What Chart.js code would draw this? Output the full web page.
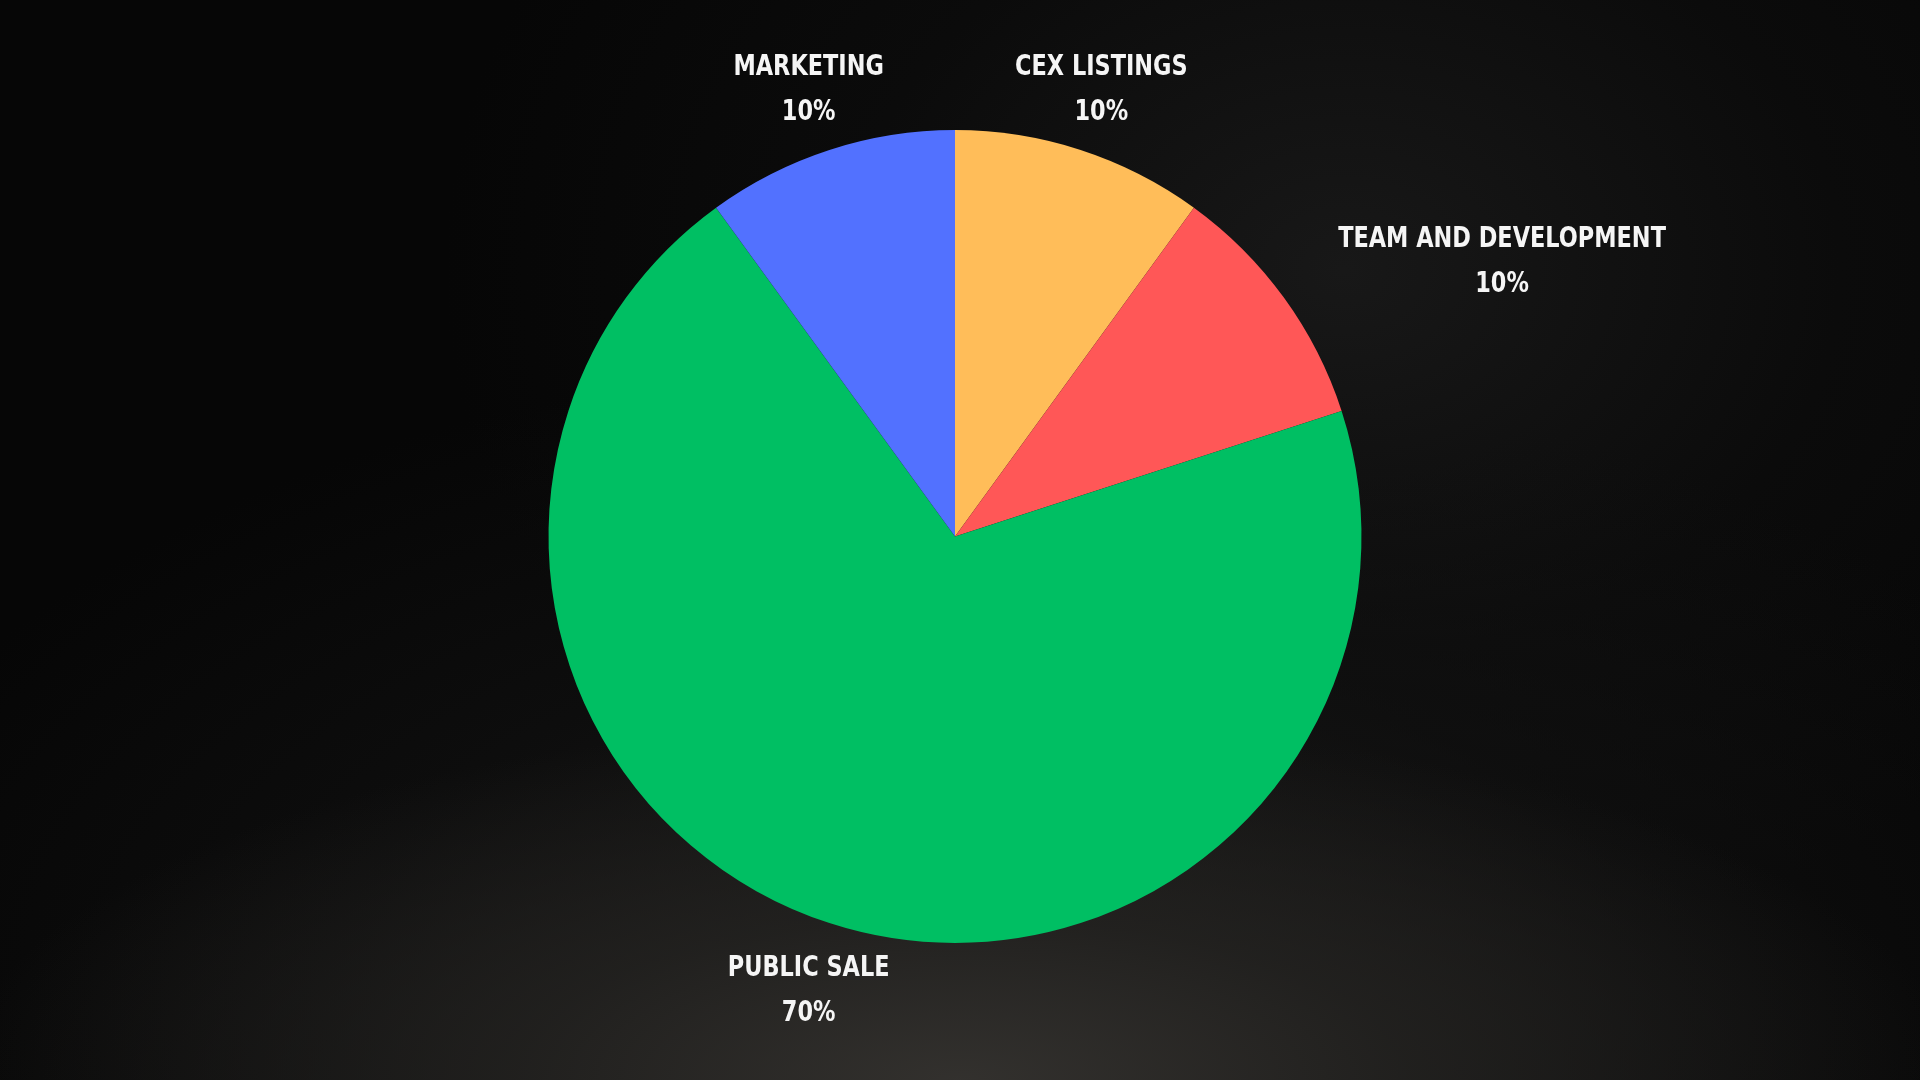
<!DOCTYPE html>
<html>
<head>
<meta charset="utf-8">
<script src="https://cdn.jsdelivr.net/npm/chart.js@4/dist/chart.umd.min.js"></script>
<style>
  html, body { margin: 0; padding: 0; width: 1920px; height: 1080px; overflow: hidden; }
  body {
    background:
      radial-gradient(ellipse 1000px 360px at 50% 100%, rgba(52,50,47,0.95) 0%, rgba(36,35,33,0.8) 45%, rgba(20,20,20,0) 100%),
      radial-gradient(ellipse 1200px 640px at 52% 92%, rgba(30,29,28,0.9) 0%, rgba(18,18,18,0.6) 55%, rgba(10,10,10,0) 100%),
      radial-gradient(ellipse 900px 700px at 70% 25%, rgba(26,26,26,0.9) 0%, rgba(16,16,16,0.5) 55%, rgba(8,8,8,0) 100%),
      #060606;
  }
  #wrap { position: absolute; left: 0; top: 0; width: 1920px; height: 1080px; }
</style>
</head>
<body>
<div id="wrap"><canvas id="c" width="1920" height="1080"></canvas></div>
<script>
const categories = ['CEX Listings', 'Team and Development', 'Public Sale', 'Marketing'];
const shares = [10, 10, 70, 10];
const sliceColors = ['#FFBD59', '#FF5757', '#00BF63', '#5271FF'];

const labelPlugin = {
  id: 'outerLabels',
  afterDatasetsDraw(chart) {
    const ctx = chart.ctx;
    const meta = chart.getDatasetMeta(0);
    const total = shares.reduce((a, b) => a + b, 0);
    const sx = 0.89;
    ctx.save();
    ctx.fillStyle = '#f5f5f5';
    ctx.textBaseline = 'middle';
    ctx.textAlign = 'center';
    ctx.font = 'bold 28px "Liberation Sans Narrow", "DejaVu Sans Condensed", sans-serif';
    meta.data.forEach((arc, i) => {
      const mid = (arc.startAngle + arc.endAngle) / 2;
      const r = arc.outerRadius * 1.165;
      const ax = arc.x + Math.cos(mid) * r;
      const ay = arc.y + Math.sin(mid) * r;
      const name = categories[i].toUpperCase();
      const pct = Math.round(shares[i] / total * 100) + '%';
      const w = ctx.measureText(name).width * sx;
      const c = Math.cos(mid);
      let cx = ax;
      if (c > 0.5) cx = ax + w / 2;
      else if (c < -0.5) cx = ax - w / 2;
      ctx.save();
      ctx.translate(cx, ay);
      ctx.scale(sx, 1);
      ctx.fillText(name, 0, -18);
      ctx.fillText(pct, 0, 27);
      ctx.restore();
    });
    ctx.restore();
  }
};

new Chart(document.getElementById('c'), {
  type: 'pie',
  data: {
    labels: categories,
    datasets: [{
      data: shares,
      backgroundColor: sliceColors,
      borderWidth: 0,
      hoverOffset: 0
    }]
  },
  options: {
    responsive: false,
    animation: false,
    layout: { padding: { top: 130, bottom: 137, left: 0, right: 10 } },
    plugins: {
      legend: { display: false },
      tooltip: { enabled: false }
    }
  },
  plugins: [labelPlugin]
});
</script>
</body>
</html>
